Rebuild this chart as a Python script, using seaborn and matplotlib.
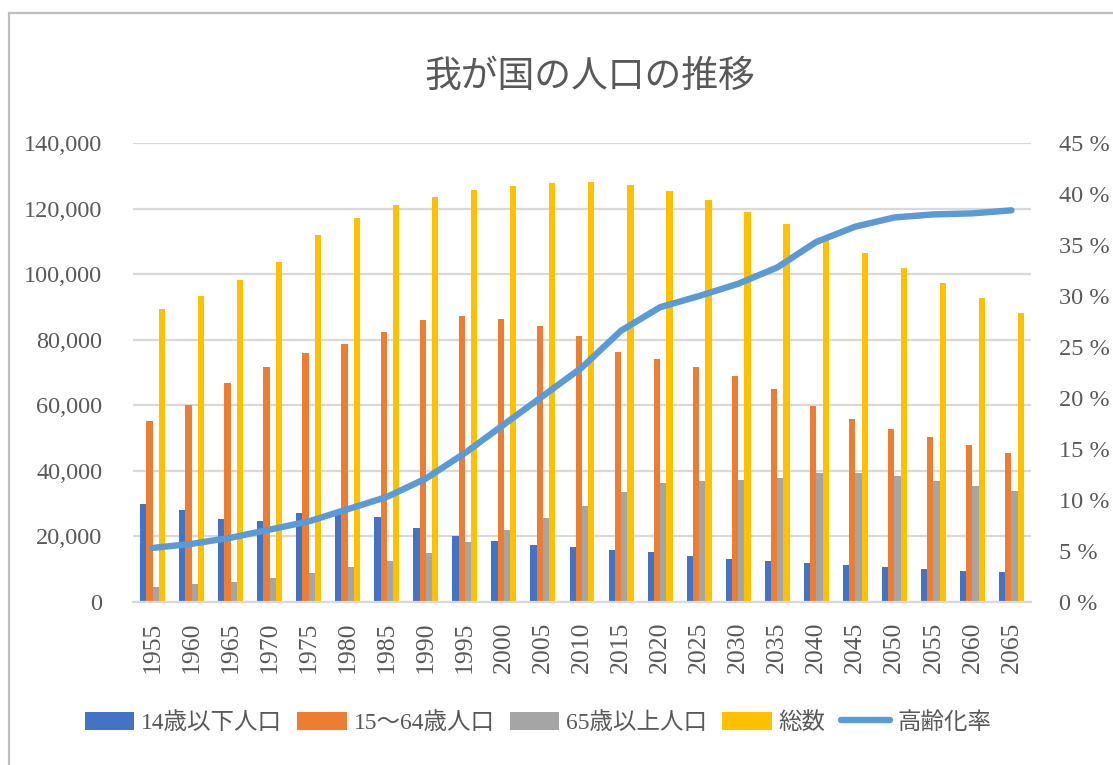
import numpy as np
import pandas as pd
import matplotlib
matplotlib.use("Agg")
import matplotlib.pyplot as plt
from matplotlib.lines import Line2D
from matplotlib.patches import Patch
import seaborn as sns

# ---- data ----
years = ["1955", "1960", "1965", "1970", "1975", "1980", "1985", "1990", "1995",
         "2000", "2005", "2010", "2015", "2020", "2025", "2030", "2035", "2040",
         "2045", "2050", "2055", "2060", "2065"]
pop_0_14 = [29800, 28000, 25200, 24800, 27200, 27500, 26000, 22500, 20000,
            18500, 17500, 16800, 15900, 15100, 14100, 13200, 12500, 11900,
            11400, 10800, 10100, 9500, 9000]
pop_15_64 = [55200, 60000, 66900, 71600, 75800, 78800, 82500, 85900, 87200,
             86200, 84100, 81000, 76300, 74100, 71700, 68800, 64900, 59800,
             55800, 52700, 50300, 47900, 45300]
pop_65 = [4700, 5400, 6200, 7300, 8900, 10600, 12500, 14900, 18300,
          22000, 25700, 29200, 33500, 36200, 36800, 37200, 37800, 39200,
          39200, 38400, 37000, 35400, 33800]
pop_total = [89300, 93400, 98300, 103700, 111900, 117100, 121000, 123600, 125600,
             126900, 127800, 128100, 127100, 125300, 122500, 119100, 115200, 110900,
             106400, 101900, 97400, 92800, 88100]
aging_rate = [5.3, 5.7, 6.3, 7.1, 7.9, 9.1, 10.3, 12.1, 14.6, 17.4, 20.2, 23.0,
              26.6, 28.9, 30.0, 31.2, 32.8, 35.3, 36.8, 37.7, 38.0, 38.1, 38.4]
series_names = ["14歳以下人口", "15～64歳人口", "65歳以上人口", "総数"]
line_name = "高齢化率"
title = "我が国の人口の推移"

colors = ["#4472C4", "#ED7D31", "#A5A5A5", "#FFC000"]
line_color = "#5B9BD5"
text_color = "#595959"
grid_color = "#D9D9D9"

df = pd.DataFrame({
    "year": years * 4,
    "value": pop_0_14 + pop_15_64 + pop_65 + pop_total,
    "series": sum([[s] * len(years) for s in series_names], []),
})

sns.set_theme(style="white")
FONT = ["Liberation Serif", "Noto Sans CJK JP", "DejaVu Sans"]
plt.rcParams["font.family"] = FONT

W, H = 1113, 765
fig = plt.figure(figsize=(W / 100, H / 100), dpi=100)
ax = fig.add_axes([133 / W, 1 - 602 / H, (1031 - 133) / W, (602 - 143) / H])

sns.barplot(data=df, x="year", y="value", hue="series", order=years,
            hue_order=series_names, palette=colors, width=0.64, gap=0,
            ax=ax, legend=False, saturation=1, linewidth=0)

ax.set_ylim(0, 140000)
ax.set_xlim(-0.5, len(years) - 0.5)
ax.set_yticks(np.arange(0, 140001, 20000))
ax.set_yticklabels([f"{int(v):,}" for v in np.arange(0, 140001, 20000)])
ax.yaxis.grid(True, color=grid_color, linewidth=1.6)
ax.set_axisbelow(True)
for s in ["top", "right", "left"]:
    ax.spines[s].set_visible(False)
ax.spines["bottom"].set_color(grid_color)
ax.spines["bottom"].set_linewidth(1.6)
ax.set_xlabel("")
ax.set_ylabel("")
ax.tick_params(axis="y", length=0, pad=22, labelsize=17.5, labelcolor=text_color)
ax.tick_params(axis="x", length=0, pad=14, labelsize=18.5, labelcolor=text_color,
               labelrotation=90)

ax2 = ax.twinx()
sns.lineplot(x=np.arange(len(years)), y=aging_rate, ax=ax2, color=line_color,
             linewidth=4.6, solid_capstyle="round", solid_joinstyle="round")
ax2.set_ylim(0, 45)
ax2.set_yticks(np.arange(0, 46, 5))
ax2.set_yticklabels([f"{v} %" for v in range(0, 46, 5)])
ax2.tick_params(axis="y", length=0, pad=20, labelsize=17.5, labelcolor=text_color)
for s in ["top", "right", "left", "bottom"]:
    ax2.spines[s].set_visible(False)
ax2.set_ylabel("")
ax2.set_xlim(-0.5, len(years) - 0.5)

fig.text(590 / W, 1 - 78 / H, title, ha="center", va="center", fontsize=26.5,
         color=text_color, family=FONT)

handles = [Patch(facecolor=c, edgecolor="none") for c in colors]
handles.append(Line2D([0], [0], color=line_color, linewidth=4.6,
                      solid_capstyle="round"))
labels = series_names + [line_name]
fig.legend(handles, labels, loc="center", bbox_to_anchor=(538 / W, 1 - 723 / H),
           ncol=5, frameon=False, handlelength=2.1,
           handleheight=0.8, handletextpad=0.3, columnspacing=0.65,
           labelcolor=text_color, prop={"family": FONT, "size": 16.9})

# chart border (top and left edges visible)
fig.add_artist(Line2D([9 / W, 9 / W], [0, 1 - 13 / H], transform=fig.transFigure,
                      color="#BFBFBF", linewidth=1.6))
fig.add_artist(Line2D([9 / W, 1], [1 - 13 / H, 1 - 13 / H], transform=fig.transFigure,
                      color="#BFBFBF", linewidth=1.6))

fig.savefig("out.png", dpi=100, facecolor="white")
